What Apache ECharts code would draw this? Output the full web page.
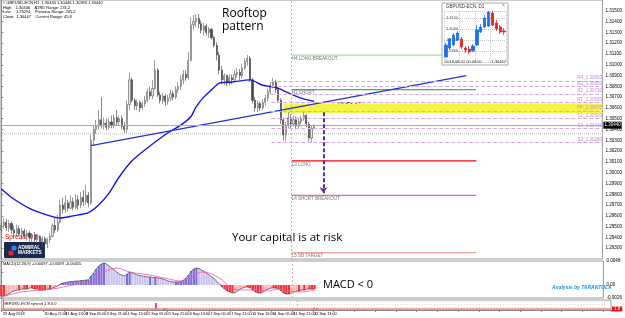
<!DOCTYPE html>
<html><head><meta charset="utf-8">
<script src="https://cdn.jsdelivr.net/npm/echarts@6/dist/echarts.min.js"></script>
<style>html,body{margin:0;padding:0;background:#fff}#c{width:625px;height:318px}</style>
</head><body><div id="c"></div><script>
// ---- DATA ----
const timeLabels = ["29 Aug 2018","30 Aug 05:00","30 Aug 21:00","31 Aug 13:00","3 Sep 05:00","3 Sep 21:00","4 Sep 13:00","5 Sep 05:00","5 Sep 21:00","6 Sep 13:00","7 Sep 05:00","7 Sep 21:00","10 Sep 13:00","11 Sep 05:00","11 Sep 21:00","12 Sep 13:00"];
const candleOpen = [1.2947,1.2951,1.2954,1.2949,1.2953,1.2947,1.2944,1.2948,1.2943,1.2946,
1.2941,1.2944,1.2940,1.2942,1.2938,1.2941,1.2936,1.2939,1.2934,1.2938,
1.2941,1.2951,1.2947,1.2954,1.2970,1.2966,1.2972,1.2967,1.2973,1.2968,
1.2975,1.2970,1.2977,1.2973,1.2979,1.2972,1.3030,1.3040,1.3043,1.3049,
1.3044,1.3046,1.3042,1.3047,1.3044,1.3051,1.3047,1.3050,1.3043,1.3040,
1.3063,1.3086,1.3067,1.3062,1.3065,1.3060,1.3064,1.3067,1.3075,1.3071,
1.3078,1.3095,1.3072,1.3067,1.3071,1.3066,1.3069,1.3073,1.3070,1.3077,
1.3080,1.3086,1.3091,1.3088,1.3104,1.3137,1.3140,1.3143,1.3138,1.3132,
1.3136,1.3130,1.3133,1.3125,1.3118,1.3109,1.3095,1.3086,1.3090,1.3084,
1.3088,1.3086,1.3091,1.3093,1.3090,1.3097,1.3103,1.3106,1.3086,1.3067,
1.3060,1.3064,1.3060,1.3065,1.3069,1.3075,1.3081,1.3084,1.3077,1.3067,
1.3049,1.3035,1.3044,1.3051,1.3045,1.3049,1.3043,1.3047,1.3050,1.3053,
1.3045,1.3032,1.3041];
const candleClose = [1.2951,1.2954,1.2949,1.2953,1.2947,1.2944,1.2948,1.2943,1.2946,1.2941,
1.2944,1.2940,1.2942,1.2938,1.2941,1.2936,1.2939,1.2934,1.2938,1.2941,
1.2951,1.2947,1.2954,1.2970,1.2966,1.2972,1.2967,1.2973,1.2968,1.2975,
1.2970,1.2977,1.2973,1.2979,1.2972,1.3030,1.3040,1.3043,1.3049,1.3044,
1.3046,1.3042,1.3047,1.3044,1.3051,1.3047,1.3050,1.3043,1.3040,1.3063,
1.3086,1.3067,1.3062,1.3065,1.3060,1.3064,1.3067,1.3075,1.3071,1.3078,
1.3095,1.3072,1.3067,1.3071,1.3066,1.3069,1.3073,1.3070,1.3077,1.3080,
1.3086,1.3091,1.3088,1.3104,1.3137,1.3140,1.3143,1.3138,1.3132,1.3136,
1.3130,1.3133,1.3125,1.3118,1.3109,1.3095,1.3086,1.3090,1.3084,1.3088,
1.3086,1.3091,1.3093,1.3090,1.3097,1.3103,1.3106,1.3086,1.3067,1.3060,
1.3064,1.3060,1.3065,1.3069,1.3075,1.3081,1.3084,1.3077,1.3067,1.3049,
1.3035,1.3044,1.3051,1.3045,1.3049,1.3043,1.3047,1.3050,1.3053,1.3045,
1.3032,1.3041,1.3044];
const candleLow = [1.2944,1.2948,1.2946,1.2945,1.2943,1.2940,1.2941,1.2941,1.2938,1.2939,
1.2937,1.2936,1.2935,1.2934,1.2935,1.2932,1.2931,1.2929,1.2930,1.2935,
1.2940,1.2944,1.2945,1.2953,1.2962,1.2963,1.2964,1.2966,1.2965,1.2966,
1.2966,1.2967,1.2969,1.2970,1.2968,1.2970,1.3025,1.3036,1.3040,1.3041,
1.3040,1.3039,1.3040,1.3041,1.3041,1.3043,1.3043,1.3040,1.3037,1.3037,
1.3058,1.3065,1.3058,1.3058,1.3056,1.3058,1.3061,1.3065,1.3068,1.3068,
1.3077,1.3070,1.3064,1.3064,1.3062,1.3063,1.3066,1.3067,1.3068,1.3074,
1.3077,1.3082,1.3085,1.3086,1.3103,1.3132,1.3135,1.3134,1.3129,1.3127,
1.3127,1.3125,1.3123,1.3116,1.3104,1.3091,1.3082,1.3081,1.3080,1.3081,
1.3082,1.3084,1.3088,1.3086,1.3087,1.3095,1.3099,1.3084,1.3064,1.3056,
1.3056,1.3057,1.3058,1.3062,1.3066,1.3072,1.3078,1.3074,1.3065,1.3045,
1.3030,1.3029,1.3041,1.3041,1.3043,1.3040,1.3041,1.3045,1.3048,1.3042,
1.3029,1.3028,1.3040];
const candleHigh = [1.2954,1.2958,1.2957,1.2956,1.2955,1.2951,1.2952,1.2951,1.2949,1.2948,
1.2947,1.2946,1.2944,1.2945,1.2943,1.2942,1.2941,1.2941,1.2940,1.2944,
1.2953,1.2958,1.2961,1.2975,1.2977,1.2979,1.2975,1.2979,1.2977,1.2980,
1.2979,1.2982,1.2984,1.2989,1.2982,1.3035,1.3044,1.3049,1.3058,1.3070,
1.3051,1.3050,1.3051,1.3053,1.3054,1.3058,1.3053,1.3053,1.3047,1.3067,
1.3093,1.3088,1.3069,1.3068,1.3067,1.3066,1.3071,1.3078,1.3080,1.3086,
1.3104,1.3097,1.3075,1.3074,1.3073,1.3072,1.3077,1.3076,1.3080,1.3084,
1.3090,1.3095,1.3095,1.3112,1.3144,1.3146,1.3147,1.3147,1.3141,1.3139,
1.3138,1.3135,1.3134,1.3127,1.3121,1.3112,1.3099,1.3092,1.3091,1.3091,
1.3091,1.3095,1.3097,1.3096,1.3101,1.3106,1.3109,1.3108,1.3088,1.3070,
1.3067,1.3066,1.3068,1.3072,1.3078,1.3084,1.3088,1.3086,1.3079,1.3069,
1.3051,1.3047,1.3056,1.3054,1.3053,1.3052,1.3051,1.3053,1.3056,1.3054,
1.3047,1.3044,1.3045];
const maPoints = [[0,1.2985],[4,1.2977],[11,1.2967],[19,1.2960],[23,1.2958],[28,1.2960],[34,1.2963],[38,1.2970],[42,1.2981],[46,1.2996],[51,1.3011],[56,1.3021],[65,1.3037],[70,1.3044],[74,1.3052],[76,1.3061],[79,1.3070],[83,1.3079],[85,1.3083],[90,1.3084],[97,1.3086],[102,1.3081],[107,1.3079],[112,1.3074],[117,1.3069],[122,1.3066]];
const fastLinePoints = [[111,1.3061],[114.9,1.3053],[117.6,1.3041],[120.7,1.3028]];
const trendPoints = [[35,1.3025],[181.4,1.3090]];
const pivotNames = ['R4','R3','R2','R1','PP','S1','S2','S3'];
const pivotPrices = [1.3085,1.3080,1.3073,1.3065,1.3057,1.3050,1.3041,1.3028];
const camNames = ['H4 LONG BREAKOUT','H3 SHORT','L3 LONG','L4 SHORT BREAKOUT','L5 SB TARGET'];
const camPrices = [1.3109,1.3077,1.3011,1.2979,1.2926];
const camColors = ['#9fe09f','#22cc22','#ff0000','#f07070','#f5a0a0'];
const pocBand = [1.3064,1.3055];
const bidPrice = 1.3044;
const prevClose = 1.3036;
const arrowFromTo = [1.3056,1.2981];
const macdHist = [-0.0022,-0.0022,-0.0020,-0.0018,-0.0014,-0.0012,-0.0010,-0.0010,-0.0008,-0.0008,
-0.0008,-0.0006,-0.0006,-0.0008,-0.0008,-0.0010,-0.0010,-0.0010,-0.0008,-0.0008,
-0.0006,-0.0004,-0.0002,0.0002,0.0004,0.0005,0.0006,0.0007,0.0007,0.0008,
0.0008,0.0009,0.0009,0.0010,0.0010,0.0018,0.0024,0.0032,0.0038,0.0042,
0.0044,0.0042,0.0038,0.0034,0.0030,0.0026,0.0022,0.0020,0.0018,0.0022,
0.0026,0.0024,0.0022,0.0020,0.0019,0.0018,0.0017,0.0016,0.0016,0.0015,
0.0015,0.0014,0.0013,0.0012,0.0010,0.0008,0.0007,0.0006,0.0006,0.0006,
0.0007,0.0010,0.0014,0.0020,0.0028,0.0032,0.0034,0.0033,0.0030,0.0027,
0.0024,0.0020,0.0016,0.0012,0.0007,0.0002,-0.0004,-0.0008,-0.0012,-0.0014,
-0.0016,-0.0015,-0.0012,-0.0008,-0.0006,-0.0004,-0.0004,-0.0006,-0.0010,-0.0014,
-0.0016,-0.0016,-0.0014,-0.0010,-0.0008,-0.0006,-0.0006,-0.0006,-0.0008,-0.0012,
-0.0016,-0.0018,-0.0018,-0.0016,-0.0014,-0.0012,-0.0012,-0.0010,-0.0010,-0.0008,
-0.0008,-0.0008,-0.0008];
const macdSignal = [[0,-0.0024],[8,-0.0014],[20,-0.0008],[30,0.0002],[35,0.0006],[40,0.0026],[45,0.0034],[50,0.0026],[55,0.0022],[60,0.0018],[65,0.0012],[70,0.0008],[75,0.0018],[78,0.0026],[82,0.0022],[86,0.0010],[90,-0.0008],[95,-0.0010],[100,-0.0010],[104,-0.0012],[108,-0.0008],[112,-0.0012],[117,-0.0014],[122,-0.0010]];
const spreadSpikes = [[59,7],[62,2],[63,1.5],[120,2.5],[121,2]];
const spreadLevel = 1;
const daySeparator = 113.3;
const miniOpen  = [1.2745,1.2827,1.2855,1.2900,1.2909,1.2827,1.2818,1.2800,1.2855,1.2973,1.3018,1.3027,1.3145,1.3055,1.3018,1.2982];
const miniClose = [1.2855,1.2909,1.2945,1.2964,1.2836,1.2809,1.2791,1.2845,1.2991,1.3018,1.3100,1.3155,1.3036,1.3000,1.2973,1.2973];
const miniLow   = [1.2745,1.2809,1.2845,1.2891,1.2818,1.2782,1.2773,1.2791,1.2845,1.2964,1.3009,1.3018,1.3027,1.2982,1.2955,1.2945];
const miniHigh  = [1.2873,1.2918,1.2964,1.2982,1.2927,1.2845,1.2845,1.2864,1.3036,1.3045,1.3127,1.3164,1.3164,1.3082,1.3036,1.3009];
const headerLines = ["# GBPUSD-ECN,H1  1.30440 1.30446 1.30393 1.30440","High:   1.30446    ATRD Range: 231.2","Low:    1.29294    Previous Range: 205.2","Close:  1.30447    Current Range: 45.8"];

// ---- BUILD ----
const N = 235, XMAX = N - 0.5;
const cats = Array.from({length:N}, (_, i) => String(i));
const candles = candleOpen.map((o,i)=>[o, candleClose[i], candleLow[i], candleHigh[i]]);
const histData = macdHist.map((v,i)=>{
  const p = i>0 ? macdHist[i-1] : v;
  const c = v>=0 ? (v>=p ? '#7b6ed8' : '#c9c3f0') : (v<=p ? '#ff2b2b' : '#ffb6b6');
  return {value:v, itemStyle:{color:c}};
});
const FS = 'Liberation Sans';
const pivotStart = 105.3, camStart = 113.3, camEnd = 185.3, pocStart = 110;

function pivotSeries(price, name){
  return {type:'line', xAxisIndex:1, yAxisIndex:0, data:[], z:1, silent:true,
    markLine:{silent:true, symbol:['none','none'], animation:false,
      lineStyle:{color:'#dba8ec', type:[4,2], width:1},
      label:{show:true, position:'insideEndTop', distance:0.5, formatter:name+'_'+price.toFixed(5), color:'#c68bdb', fontSize:4.5, fontFamily:FS},
      data:[[{coord:[pivotStart,price]},{coord:[XMAX,price]}]]}};
}
function camSeries(price, name, color){
  return {type:'line', xAxisIndex:1, yAxisIndex:0, z:2, silent:true, showSymbol:true, symbol:'circle', symbolSize:0.01,
    itemStyle:{color:color}, lineStyle:{color:color, width:1.2, type:'solid'},
    data:[{value:[camStart,price], label:{show:true, position:'bottom', align:'left', distance:1, formatter:name, color:'#777', fontSize:4.5, fontFamily:FS}},
          {value:[camEnd,price], label:{show:false}}]};
}
const levelSeriesList = [];
pivotNames.forEach((n,k)=>levelSeriesList.push(pivotSeries(pivotPrices[k], n)));
camNames.forEach((n,k)=>levelSeriesList.push(camSeries(camPrices[k], n, camColors[k])));

const option = {
  animation:false,
  textStyle:{fontFamily:FS},
  grid:[
    {left:0, top:0, width:611, height:259, show:true, borderColor:'#9a9a9a', borderWidth:1, backgroundColor:'#fff'},
    {left:0, top:261, width:611, height:37, show:true, borderColor:'#9a9a9a', borderWidth:1, backgroundColor:'#fff'},
    {left:0, top:300, width:611, height:10, show:true, borderColor:'#9a9a9a', borderWidth:1, backgroundColor:'#fff'},
    {left:444, top:11, width:62, height:51, show:false, zlevel:1, z:2}
  ],
  xAxis:[
    {gridIndex:0, type:'category', data:cats, show:false},
    {gridIndex:0, type:'value', min:-0.5, max:XMAX, show:false},
    {gridIndex:1, type:'category', data:cats, show:false},
    {gridIndex:1, type:'value', min:-0.5, max:XMAX, show:false},
    {gridIndex:2, type:'category', data:cats, position:'bottom',
      axisLine:{show:true, lineStyle:{color:'#888'}},
      axisTick:{show:true, interval:7, length:2, lineStyle:{color:'#888'}},
      axisLabel:{interval:7, fontSize:3.8, margin:2, align:'left', color:'#000', hideOverlap:false, showMinLabel:true, formatter:(v,i)=>timeLabels[i/8]||''},
      splitLine:{show:false}},
    {gridIndex:2, type:'value', min:-0.5, max:XMAX, show:false},
    {gridIndex:3, type:'category', data:miniOpen.map((_,i)=>String(i)), zlevel:1, z:3,
      axisLine:{show:false}, axisTick:{show:false}, axisLabel:{show:false},
      splitLine:{show:true, interval:3, lineStyle:{color:'#c8c8c8', type:[1,1]}}}
  ],
  yAxis:[
    {gridIndex:0, type:'value', min:1.292, max:1.316, interval:0.001, position:'right',
      axisLine:{show:true, lineStyle:{color:'#888'}}, axisTick:{show:true, length:2, lineStyle:{color:'#888'}},
      splitLine:{show:false},
      axisLabel:{fontSize:4.6, margin:3, color:'#000', showMinLabel:false, showMaxLabel:false, formatter:v=>v.toFixed(5)}},
    {gridIndex:1, type:'value', min:-0.0026, max:0.0048, interval:0.0026, position:'right',
      axisLine:{show:true, lineStyle:{color:'#888'}}, axisTick:{show:true, length:2, lineStyle:{color:'#888'}},
      splitLine:{show:false},
      axisLabel:{fontSize:4.6, margin:3, color:'#000', formatter:v=>Math.abs(v)<1e-9?'0.00':(Math.abs(v-0.0026)<1e-9?'':v.toFixed(4))}},
    {gridIndex:2, type:'value', min:0, max:10, position:'right', show:true,
      axisLine:{show:true, lineStyle:{color:'#888'}}, axisTick:{show:false}, axisLabel:{show:false},
      splitLine:{show:true, lineStyle:{color:'#d6d6d6', type:[1,2]}}, splitNumber:3},
    {gridIndex:3, type:'value', min:1.27, max:1.3164, interval:0.01, zlevel:1, z:3,
      axisLine:{show:false}, axisTick:{show:false},
      axisLabel:{inside:true, fontSize:4, color:'#555', margin:2, showMinLabel:false, showMaxLabel:false, formatter:v=>v.toFixed(4)},
      splitLine:{show:true, lineStyle:{color:'#c8c8c8', type:[1,1]}}}
  ],
  series:[
    {type:'line', xAxisIndex:1, yAxisIndex:0, data:[], z:1, silent:true,
      markArea:{silent:true, itemStyle:{color:'#f4f447'}, label:{show:false},
        data:[[{coord:[pocStart,pocBand[0]]},{coord:[XMAX,pocBand[1]]}]]}},
    ...levelSeriesList,
    {type:'line', xAxisIndex:1, yAxisIndex:0, z:2, silent:true, showSymbol:false,
      lineStyle:{color:'#b8b8b8', type:[1,1], width:1}, data:[[-0.5,prevClose],[XMAX,prevClose]]},
    {type:'line', xAxisIndex:1, yAxisIndex:0, data:[], z:2, silent:true,
      markLine:{silent:true, symbol:['none','none'], animation:false,
        lineStyle:{color:'#a9a9a9', type:'solid', width:1},
        label:{show:true, position:'end', distance:1, formatter:bidPrice.toFixed(5), color:'#fff', backgroundColor:'#000', fontSize:4.5, padding:[1,1], fontFamily:FS},
        data:[[{coord:[-0.5,bidPrice]},{coord:[XMAX,bidPrice]}]]}},
    {type:'line', xAxisIndex:1, yAxisIndex:0, data:[], z:2, silent:true,
      markLine:{silent:true, symbol:['none','none'], animation:false,
        lineStyle:{color:'#f4a3a3', type:[2,2], width:1}, label:{show:false},
        data:[{xAxis:daySeparator}]}},
    {type:'line', xAxisIndex:1, yAxisIndex:0, data:[], z:5, silent:true,
      markLine:{silent:true, symbol:['none','arrow'], symbolSize:6, animation:false,
        lineStyle:{color:'#5e2f94', type:[4,2], width:2}, label:{show:false},
        data:[[{coord:[125.7,arrowFromTo[0]]},{coord:[125.7,arrowFromTo[1]]}]]}},
    {type:'candlestick', xAxisIndex:0, yAxisIndex:0, data:candles, barWidth:1.6, z:3,
      itemStyle:{color:'#e6e6e6', color0:'#4a4a4a', borderColor:'#5a5a5a', borderColor0:'#3a3a3a', borderWidth:0.6}},
    {type:'line', xAxisIndex:1, yAxisIndex:0, data:fastLinePoints, smooth:0.3, showSymbol:false, z:4,
      lineStyle:{color:'#8ad88a', width:0.8, type:[2,1]}},
    {type:'line', xAxisIndex:1, yAxisIndex:0, data:maPoints, smooth:0.3, showSymbol:false, z:4,
      lineStyle:{color:'#1414e6', width:1.4}},
    {type:'line', xAxisIndex:1, yAxisIndex:0, data:trendPoints, showSymbol:false, z:4,
      lineStyle:{color:'#1f33d6', width:1.3}},
    {type:'bar', xAxisIndex:2, yAxisIndex:1, data:histData, barWidth:2.2, z:2},
    {type:'line', xAxisIndex:2, yAxisIndex:1, data:macdHist, showSymbol:false, z:3,
      lineStyle:{color:'#555', width:0.8}},
    {type:'line', xAxisIndex:3, yAxisIndex:1, data:macdSignal, showSymbol:false, smooth:0.3, z:4,
      lineStyle:{color:'#ff4fb0', width:0.8},
      markLine:{silent:true, symbol:['none','none'], lineStyle:{color:'#f4a3a3',type:[2,2],width:1}, label:{show:false}, data:[{xAxis:daySeparator}]}},
    {type:'bar', xAxisIndex:5, yAxisIndex:2, data:spreadSpikes, barWidth:1.5, z:3, itemStyle:{color:'#e8141b'},
      markLine:{silent:true, symbol:['none','none'], lineStyle:{color:'#f4a3a3',type:[2,2],width:1}, label:{show:false}, data:[{xAxis:daySeparator}]}},
    {type:'line', xAxisIndex:5, yAxisIndex:2, data:[], z:2, silent:true,
      markLine:{silent:true, symbol:['none','none'], lineStyle:{color:'#f08a8a',type:'solid',width:1.5},
        label:{show:true, position:'end', distance:1, formatter:'1.8', color:'#fff', backgroundColor:'#e8141b', fontSize:4.5, padding:[0,2]},
        data:[{yAxis:spreadLevel}]}},
    {type:'candlestick', xAxisIndex:6, yAxisIndex:3, data:miniOpen.map((o,i)=>[o,miniClose[i],miniLow[i],miniHigh[i]]),
      barWidth:2.8, zlevel:1, z:5,
      itemStyle:{color:'#1d6ff2', color0:'#e0262b', borderColor:'#1d6ff2', borderColor0:'#e0262b', borderWidth:0.8}}
  ],
  graphic:[
    {type:'text', left:3, top:1, style:{text:headerLines.join('\n'), fontSize:4, lineHeight:4.4, fill:'#000', fontFamily:FS}},
    {type:'text', left:222, top:7, style:{text:'Rooftop\npattern', fontSize:12, lineHeight:13, fill:'#000', fontFamily:'Open Sans'}},
    {type:'text', left:337, top:102, style:{text:'POC', fontSize:12, fill:'#000', fontFamily:'Open Sans'}},
    {type:'text', left:232, top:232, style:{text:'Your capital is at risk', fontSize:11.5, fill:'#000', fontFamily:'Open Sans'}},
    {type:'text', left:323, top:279, style:{text:'MACD < 0', fontSize:11, fill:'#000', fontFamily:'Open Sans'}},
    {type:'text', left:552, top:285, style:{text:'Analysis by TARANTULA', fontSize:5, fontWeight:'bold', fontStyle:'italic', fill:'#1f8ef0', fontFamily:FS}},
    {type:'text', left:3, top:262, style:{text:'MACD(12,26,9) -0.00097 -0.00097 -0.00055', fontSize:4, fill:'#000', fontFamily:FS}},
    {type:'text', left:3, top:302, style:{text:'GBPUSD-ECN spread 1.8 0.0', fontSize:4, fill:'#000', fontFamily:FS}},
    {type:'text', left:5, top:234, style:{text:'Spread: 0.5', fontSize:6.5, fill:'#ff0000', fontFamily:FS}},
    {type:'rect', shape:{x:4, y:242, width:41, height:16, r:1}, style:{fill:'#1b2a52'}},
    {type:'circle', shape:{cx:14, cy:248, r:2.6}, style:{fill:'#2e86e6'}},
    {type:'circle', shape:{cx:11, cy:253, r:2.6}, style:{fill:'#e3262d'}},
    {type:'text', left:18, top:244.5, style:{text:'ADMIRAL\nMARKETS', fontSize:4.8, lineHeight:5.5, fontWeight:'bold', fill:'#fff', fontFamily:FS}},
    {type:'rect', zlevel:1, z:0, shape:{x:442, y:3, width:66, height:62}, style:{fill:'#fff', stroke:'#a8a8a8', lineWidth:1}},
    {type:'text', zlevel:1, z:6, left:446, top:4.5, style:{text:'GBPUSD-ECN, D1', fontSize:4.5, fill:'#333', fontFamily:FS}},
    {type:'text', zlevel:1, z:6, left:502, top:3.5, style:{text:'×', fontSize:5, fill:'#777', fontFamily:FS}},
    {type:'text', zlevel:1, z:6, left:445, top:59.5, style:{text:'2018.08.22 00:00:00', fontSize:4, fill:'#333', fontFamily:FS}},
    {type:'text', zlevel:1, z:6, right:119, top:59.5, style:{text:'1.30467', fontSize:4, fill:'#333', fontFamily:FS}}
  ]
};
const chart = echarts.init(document.getElementById('c'), null, {renderer:'canvas', width:625, height:318});
chart.setOption(option);
</script></body></html>
